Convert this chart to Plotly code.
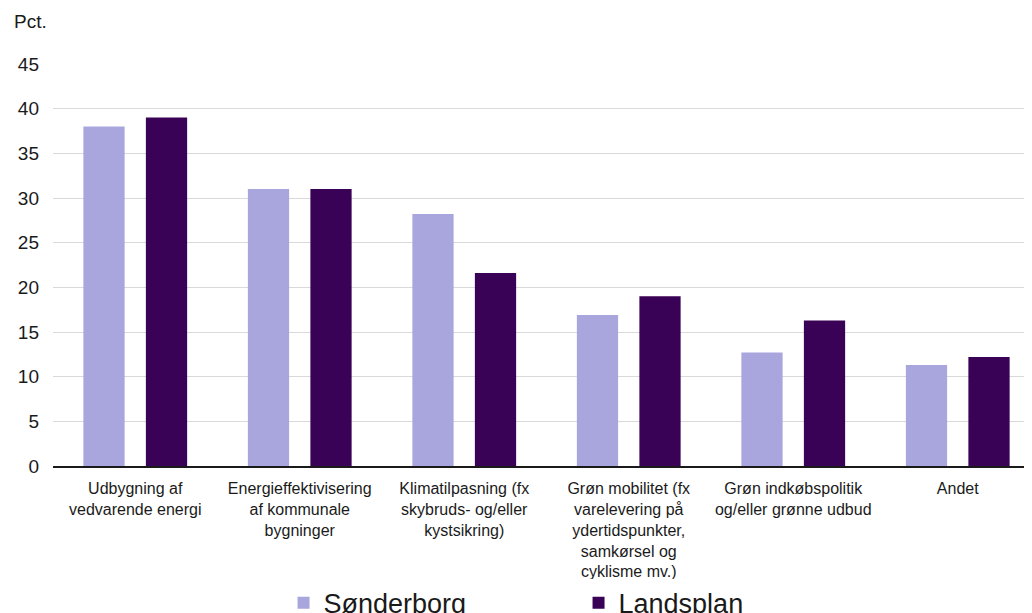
import plotly.graph_objects as go

categories = [
    "Udbygning af<br>vedvarende energi",
    "Energieffektivisering<br>af kommunale<br>bygninger",
    "Klimatilpasning (fx<br>skybruds- og/eller<br>kystsikring)",
    "Grøn mobilitet (fx<br>varelevering på<br>ydertidspunkter,<br>samkørsel og<br>cyklisme mv.)",
    "Grøn indkøbspolitik<br>og/eller grønne udbud",
    "Andet",
]
sonderborg = [38.0, 31.0, 28.2, 16.9, 12.7, 11.3]
landsplan = [39.0, 31.0, 21.6, 19.0, 16.3, 12.2]
y_ticks = [0, 5, 10, 15, 20, 25, 30, 35, 40, 45]

FONT = "Liberation Sans, Arial, sans-serif"

fig = go.Figure()
fig.add_trace(go.Bar(name="Sønderborg", x=categories, y=sonderborg,
                     marker=dict(color="#A9A6DE", line=dict(width=0))))
fig.add_trace(go.Bar(name="Landsplan", x=categories, y=landsplan,
                     marker=dict(color="#3A0256", line=dict(width=0))))

fig.update_layout(
    width=1032, height=613,
    margin=dict(l=45, r=0, t=56, b=155, autoexpand=False),
    paper_bgcolor="white", plot_bgcolor="white",
    barmode="group", bargap=0.24, bargroupgap=0.34,
    font=dict(family=FONT, color="#1a1a1a"),
    showlegend=True,
    legend=dict(orientation="h", xref="container", yref="container",
                x=0.267, xanchor="left", y=0.029, yanchor="middle",
                font=dict(size=27, family=FONT, color="#1a1a1a"),
                entrywidth=250, itemsizing="constant"),
    annotations=[dict(text="Pct.", xref="paper", yref="paper", x=-41/987, y=1 + 43/402,
                      xanchor="left", yanchor="middle", showarrow=False,
                      font=dict(size=19, family=FONT, color="#1a1a1a"))],
)
fig.update_yaxes(range=[0, 45], tickvals=y_ticks, showgrid=True, gridcolor="#d9d9d9",
                 gridwidth=1, zeroline=False, showline=False, ticks="", automargin=False,
                 tickfont=dict(size=19, family=FONT, color="#1a1a1a"), ticklabelstandoff=13)
fig.update_xaxes(showline=True, linecolor="#1a1a1a", linewidth=2, ticks="", tickangle=0,
                 automargin=False, ticklabelstandoff=7,
                 tickfont=dict(size=16, family=FONT, color="#1a1a1a"))

fig.write_html("out.html")
